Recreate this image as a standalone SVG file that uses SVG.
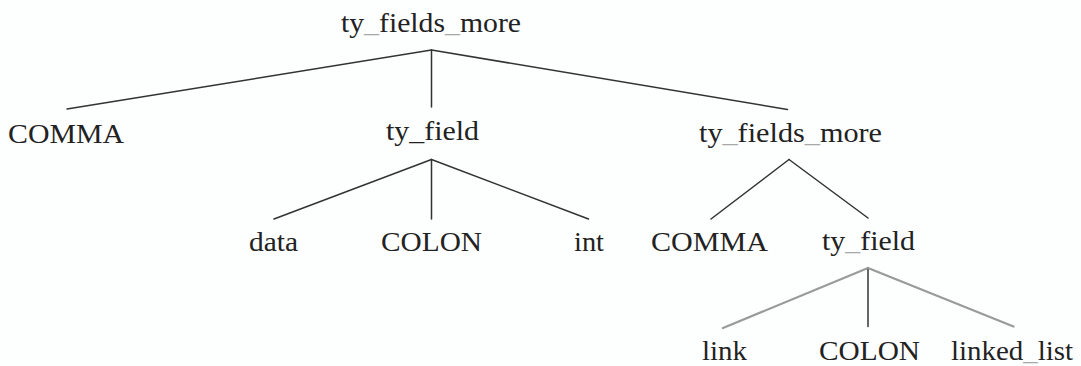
<svg xmlns="http://www.w3.org/2000/svg" width="1081" height="366" viewBox="0 0 1081 366">
  <style>
    .lbl { font-family: "Liberation Serif", "Times New Roman", serif; font-size: 28px; fill: #222; }
    .us { fill: #a8a8a8; }
    .edge { stroke: #333; stroke-width: 1.5; fill: none; stroke-linecap: round; }
    .edge.soft { stroke: #9a9a9a; stroke-width: 2.2; }
  </style>
  <rect width="1081" height="366" fill="#fdfefe"/>

  <!-- parse tree edges -->
  <g id="edges">
    <line class="edge" x1="431.5" y1="50" x2="67" y2="109"/>
    <line class="edge" x1="431.5" y1="50" x2="431.5" y2="107"/>
    <line class="edge" x1="431.5" y1="50" x2="787.5" y2="109.5"/>

    <line class="edge" x1="431.5" y1="159.5" x2="274" y2="219"/>
    <line class="edge" x1="431.5" y1="159.5" x2="431.5" y2="219"/>
    <line class="edge" x1="431.5" y1="159.5" x2="588.5" y2="219"/>

    <line class="edge" x1="789" y1="159.5" x2="711" y2="219"/>
    <line class="edge" x1="789" y1="159.5" x2="868" y2="218"/>

    <line class="edge soft" x1="868" y1="268" x2="723" y2="328"/>
    <line class="edge" x1="868" y1="268" x2="868" y2="326.5"/>
    <line class="edge soft" x1="868" y1="268" x2="1013.5" y2="326.5"/>
  </g>

  <!-- level 0 -->
  <g id="n-root">
    <text class="lbl" x="341" y="31.5" textLength="180" lengthAdjust="spacingAndGlyphs">ty<tspan class="us">_</tspan>fields<tspan class="us">_</tspan>more</text>
  </g>

  <!-- level 1 -->
  <g id="n-comma1">
    <text class="lbl" x="8" y="142.7" textLength="116" lengthAdjust="spacingAndGlyphs">COMMA</text>
  </g>
  <g id="n-tyfield1">
    <text class="lbl" x="386" y="140" textLength="93" lengthAdjust="spacingAndGlyphs">ty_field</text>
  </g>
  <g id="n-tyfieldsmore2">
    <text class="lbl" x="699" y="141.7" textLength="183" lengthAdjust="spacingAndGlyphs">ty<tspan class="us">_</tspan>fields<tspan class="us">_</tspan>more</text>
  </g>

  <!-- level 2 -->
  <g id="n-data">
    <text class="lbl" x="249" y="251.3" textLength="49" lengthAdjust="spacingAndGlyphs">data</text>
  </g>
  <g id="n-colon1">
    <text class="lbl" x="381" y="251.3" textLength="101" lengthAdjust="spacingAndGlyphs">COLON</text>
  </g>
  <g id="n-int">
    <text class="lbl" x="574" y="251.3" textLength="30" lengthAdjust="spacingAndGlyphs">int</text>
  </g>
  <g id="n-comma2">
    <text class="lbl" x="651" y="251.3" textLength="117" lengthAdjust="spacingAndGlyphs">COMMA</text>
  </g>
  <g id="n-tyfield2">
    <text class="lbl" x="822" y="250" textLength="93" lengthAdjust="spacingAndGlyphs">ty<tspan class="us">_</tspan>field</text>
  </g>

  <!-- level 3 -->
  <g id="n-link">
    <text class="lbl" x="702" y="359.7" textLength="45" lengthAdjust="spacingAndGlyphs">link</text>
  </g>
  <g id="n-colon2">
    <text class="lbl" x="819" y="359.7" textLength="101" lengthAdjust="spacingAndGlyphs">COLON</text>
  </g>
  <g id="n-linkedlist">
    <text class="lbl" x="951" y="359.7" textLength="122" lengthAdjust="spacingAndGlyphs">linked<tspan class="us">_</tspan>list</text>
  </g>
</svg>
